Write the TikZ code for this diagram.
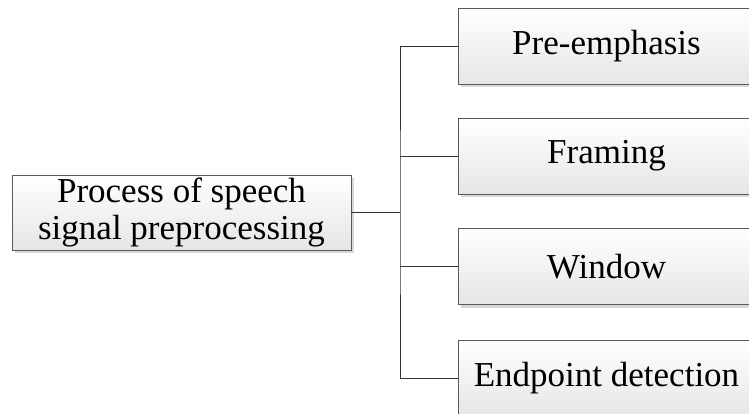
\documentclass[tikz,border=0pt]{standalone}
\usepackage{fontspec}
\setmainfont{Liberation Serif}
\usetikzlibrary{shadows}
\tikzset{
	stage/.style={rectangle,draw=black!65,line width=0.9pt,top color=white,bottom color=black!10,
		drop shadow={shadow xshift=3pt,shadow yshift=-3pt,fill=black!30},
		minimum width=297pt,minimum height=76pt,inner sep=0pt,
		font=\fontsize{35}{37}\selectfont},
	root/.style={stage,minimum width=339pt,minimum height=75pt,align=center},
	link/.style={draw=black!80,line width=0.9pt}
}
\begin{document}
\begin{tikzpicture}[x=1pt,y=-1pt]
	\useasboundingbox (0,0) rectangle (749,414);
	\clip (0,0) rectangle (749,414);
	\node [root] (proc) at (181.5,212.5) {Process of speech\\signal preprocessing};
	\node [stage] (pre) at (606.5,46) {Pre-emphasis};
	\node [stage] (frm) at (606.5,156) {Framing};
	\node [stage] (win) at (606.5,266.5) {Window};
	\node [stage] (end) at (606.5,378) {Endpoint detection};
	
	\coordinate (fork) at (400,212.5);
	\draw [link] (proc.east) -- (fork);
	\draw [link] (pre.west) -| (fork) |- (end.west);
	\draw [link] (frm.west) -- (frm.west -| fork);
	\draw [link] (win.west) -- (win.west -| fork);
\end{tikzpicture}
\end{document}
